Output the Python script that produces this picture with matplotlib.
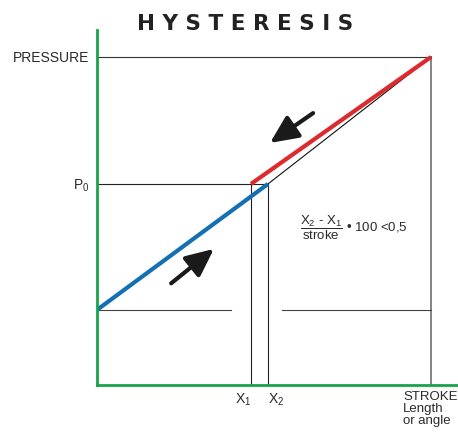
import matplotlib
matplotlib.use("Agg")
import matplotlib.pyplot as plt

plt.rcParams['font.family'] = ['Liberation Sans', 'DejaVu Sans']
plt.rcParams['mathtext.fontset'] = 'custom'
plt.rcParams['mathtext.rm'] = 'Liberation Sans'
plt.rcParams['mathtext.it'] = 'Liberation Sans'

# ---- data (normalised: stroke 0..1, pressure 0..1) ----
x1 = 0.461          # X1 position
x2 = 0.512          # X2 position
stroke_end = 1.0    # full stroke
p0 = 0.613          # pressure P0
p_max = 1.0         # full pressure
p_start = 0.229     # starting pressure
gap = [0.401, 0.554]  # gap in the base line
rise_x = [0.0, x2]
rise_y = [p_start, p0]
fall_x = [x1, stroke_end]
fall_y = [p0, p_max]
ideal_x = [x2, stroke_end]
ideal_y = [p0, p_max]
arrow_down = [(0.647, 0.829), (0.518, 0.738)]
arrow_up = [(0.222, 0.310), (0.350, 0.415)]
ytick_vals = [p0, p_max]
ytick_labels = [r'$\mathregular{P_0}$', 'PRESSURE']
xtick_vals = [x1, x2, stroke_end]
xtick_labels = [r'$\mathregular{X_1}$', r'$\mathregular{X_2}$', '']
stroke_label = 'STROKE\nLength\nor angle'

GREEN = '#17a34a'
BLUE = '#1570b3'
RED = '#dc2a2e'
TXT = '#2a2a2a'
GRAY = '#707070'

fig = plt.figure(figsize=(4.58, 4.32), dpi=100)
ax = fig.add_axes([97/458, 47/432, 361/458, 355/432])
ax.set_xlim(0, 361/334)
ax.set_ylim(0, 355/328)

for s in ['top', 'right']:
    ax.spines[s].set_visible(False)
for s in ['left', 'bottom']:
    ax.spines[s].set_color(GREEN)
    ax.spines[s].set_linewidth(2.0)
    ax.spines[s].set_zorder(5)

lw_thin = 0.8
# guide lines
ax.plot([0, stroke_end], [p_max, p_max], color='#333333', lw=lw_thin)
ax.plot([stroke_end, stroke_end], [0, p_max], color=GRAY, lw=1.2)
ax.plot([0, x1], [p0, p0], color='#222222', lw=lw_thin)
ax.plot([x1, x1], [0, p0], color='#222222', lw=lw_thin)
ax.plot([x1, x2], [p0, p0], color='#222222', lw=lw_thin)
ax.plot([x2, x2], [0, p0], color='#222222', lw=lw_thin)
ax.plot([0, gap[0]], [p_start, p_start], color='#444444', lw=lw_thin)
ax.plot([gap[1], stroke_end], [p_start, p_start], color='#444444', lw=lw_thin)
ax.plot(ideal_x, ideal_y, color='#111111', lw=lw_thin)

# hysteresis curves
ax.plot(rise_x, rise_y, color=BLUE, lw=3.0, solid_capstyle='butt', zorder=4)
ax.plot(fall_x, fall_y, color=RED, lw=3.0, solid_capstyle='butt', zorder=4)

# arrows
for (tail, tip) in [arrow_down, arrow_up]:
    ax.annotate('', xy=tip, xytext=tail,
                arrowprops=dict(arrowstyle='-|>,head_length=0.65,head_width=0.3',
                                lw=3.0, color='#1a1a1a', mutation_scale=26,
                                shrinkA=0, shrinkB=0))

# ticks / labels
ax.set_yticks(ytick_vals)
ax.set_yticklabels(ytick_labels)
ax.set_xticks(xtick_vals)
ax.set_xticklabels(xtick_labels)
ax.tick_params(axis='both', length=0, labelsize=10, labelcolor=TXT)
ax.tick_params(axis='y', pad=5.5)
ax.tick_params(axis='x', pad=5)
xl = ax.get_xticklabels()
xl[0].set_ha('right')
xl[1].set_ha('left')

ax.annotate(stroke_label, xy=(stroke_end, 0), xytext=(-28, -6),
            textcoords='offset pixels', ha='left', va='top',
            fontsize=9.5, color=TXT, linespacing=1.0,
            annotation_clip=False)

# formula
ax.text(0.607, 0.48,
        r'$\dfrac{\mathregular{X_2}\text{ - }\mathregular{X_1}}{\mathregular{stroke}}$'
        + ' • 100 <0,5',
        fontsize=9.5, color=TXT, ha='left', va='center')

# title
fig.text(0.536, 0.945, 'H Y S T E R E S I S', ha='center', va='center',
         fontsize=15.5, fontweight='bold', color='#222222',
         family=['DejaVu Sans'])

fig.savefig('out.png', dpi=100)
